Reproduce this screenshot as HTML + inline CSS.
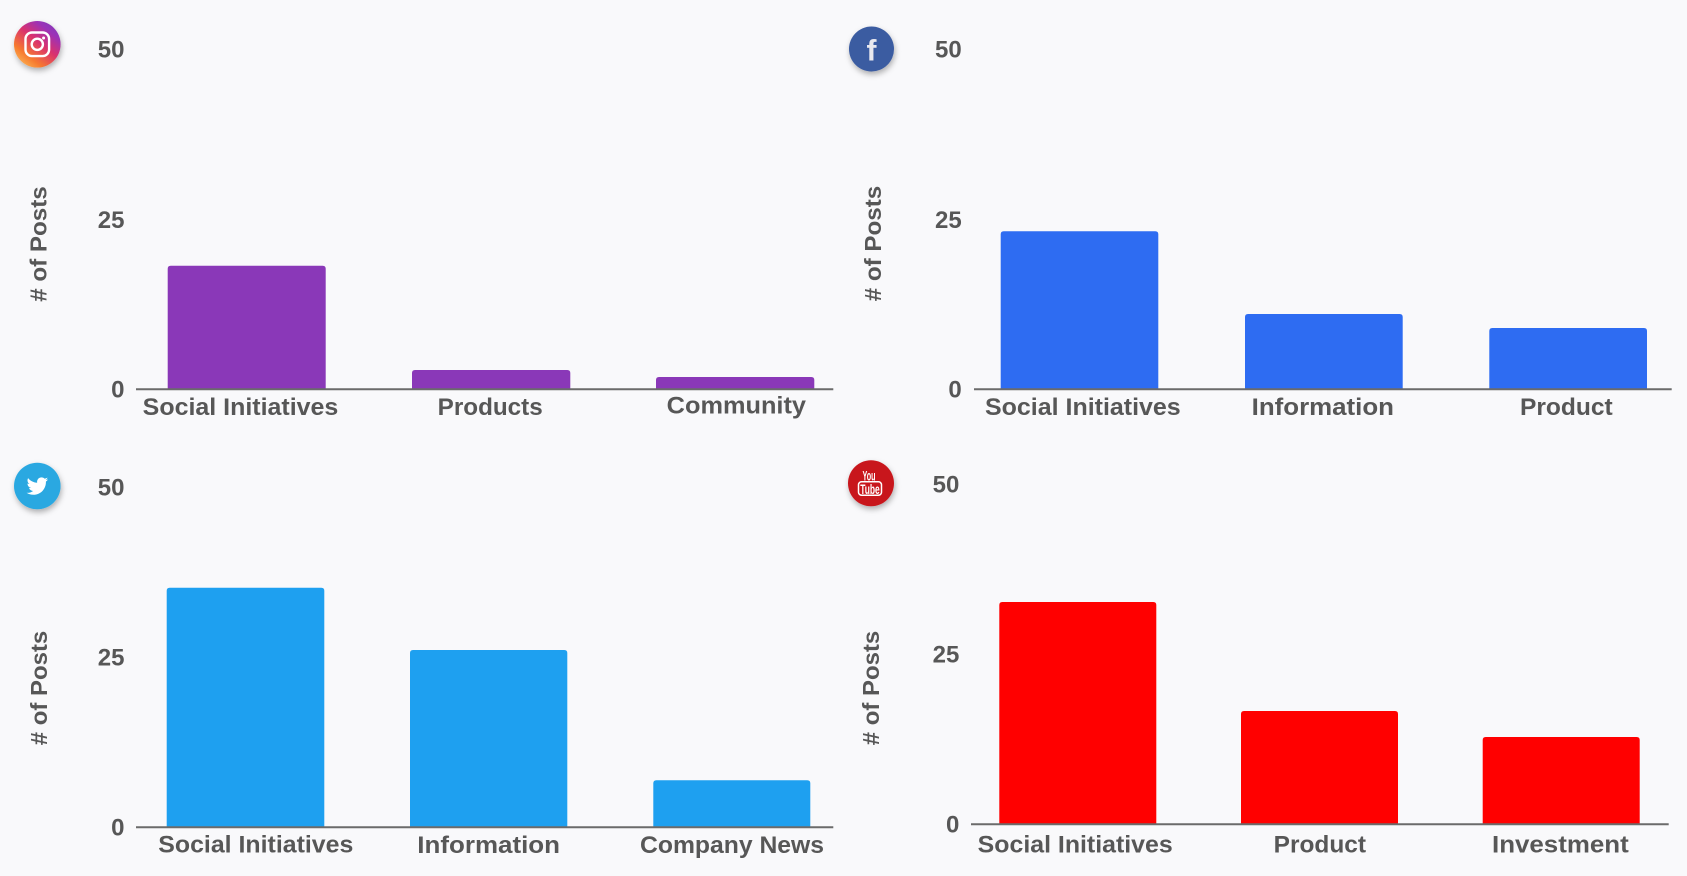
<!DOCTYPE html>
<html>
<head>
<meta charset="utf-8">
<style>
  html,body{margin:0;padding:0;background:#f9f9fb;}
  svg{display:block;}
  text{font-family:"Liberation Sans",Arial,sans-serif;font-weight:bold;fill:#575757;}
</style>
</head>
<body>
<svg width="1687" height="876" viewBox="0 0 1687 876" xmlns="http://www.w3.org/2000/svg">
  <defs>
    <filter id="sh" x="-50%" y="-50%" width="200%" height="200%">
      <feDropShadow dx="1" dy="3" stdDeviation="3" flood-color="#000" flood-opacity="0.3"/>
    </filter>
    <linearGradient id="ig" x1="0.1" y1="1" x2="0.9" y2="0">
      <stop offset="0" stop-color="#fdc25e"/>
      <stop offset="0.25" stop-color="#f77a2e"/>
      <stop offset="0.55" stop-color="#d9306f"/>
      <stop offset="0.8" stop-color="#9b33b8"/>
      <stop offset="1" stop-color="#7d3bb6"/>
    </linearGradient>
  </defs>
  <rect x="0" y="0" width="1687" height="876" fill="#f9f9fb"/>

  <!-- ===== Instagram ===== -->
  <g filter="url(#sh)"><circle cx="37.3" cy="44.3" r="23.3" fill="url(#ig)"/></g>
  <rect x="25.5" y="32.5" width="23.6" height="23.6" rx="6.5" fill="none" stroke="#fff" stroke-width="2.4"/>
  <circle cx="37.3" cy="44.3" r="5.6" fill="none" stroke="#fff" stroke-width="2.4"/>
  <circle cx="43.6" cy="38" r="1.5" fill="#fff"/>

  <text x="124.5" y="57.3" text-anchor="end" font-size="24">50</text>
  <text x="124.5" y="227.8" text-anchor="end" font-size="24">25</text>
  <text x="124.5" y="397.3" text-anchor="end" font-size="24">0</text>
  <text transform="translate(46.5,244) rotate(-90)" text-anchor="middle" font-size="23" textLength="115.5" lengthAdjust="spacingAndGlyphs">#  of Posts</text>

  <path d="M167.7 389.3 V268.7 Q167.7 265.7 170.7 265.7 H322.7 Q325.7 265.7 325.7 268.7 V389.3 Z" fill="#8a38b8"/>
  <path d="M412 389.3 V373 Q412 370 415 370 H567.3 Q570.3 370 570.3 373 V389.3 Z" fill="#8a38b8"/>
  <path d="M656 389.3 V380 Q656 377 659 377 H811.3 Q814.3 377 814.3 380 V389.3 Z" fill="#8a38b8"/>
  <line x1="136" y1="389.3" x2="833.3" y2="389.3" stroke="#6b6b6b" stroke-width="2"/>

  <text x="142.7" y="415" font-size="24" textLength="195.6" lengthAdjust="spacingAndGlyphs">Social Initiatives</text>
  <text x="437.7" y="415" font-size="24" textLength="105" lengthAdjust="spacingAndGlyphs">Products</text>
  <text x="666.7" y="413.3" font-size="24" textLength="139.3" lengthAdjust="spacingAndGlyphs">Community</text>

  <!-- ===== Facebook ===== -->
  <g filter="url(#sh)"><circle cx="871.5" cy="49" r="22.5" fill="#3b5ba1"/></g>
  <text x="871.5" y="60.5" text-anchor="middle" font-size="30" style="fill:#e9e9ef">f</text>

  <text x="961.7" y="57.3" text-anchor="end" font-size="24">50</text>
  <text x="961.7" y="227.8" text-anchor="end" font-size="24">25</text>
  <text x="961.7" y="397.3" text-anchor="end" font-size="24">0</text>
  <text transform="translate(881,243.5) rotate(-90)" text-anchor="middle" font-size="23" textLength="115.5" lengthAdjust="spacingAndGlyphs">#  of Posts</text>

  <path d="M1000.7 389.3 V234.3 Q1000.7 231.3 1003.7 231.3 H1155.3 Q1158.3 231.3 1158.3 234.3 V389.3 Z" fill="#2e6cf2"/>
  <path d="M1245 389.3 V317 Q1245 314 1248 314 H1399.7 Q1402.7 314 1402.7 317 V389.3 Z" fill="#2e6cf2"/>
  <path d="M1489.3 389.3 V331 Q1489.3 328 1492.3 328 H1644 Q1647 328 1647 331 V389.3 Z" fill="#2e6cf2"/>
  <line x1="974" y1="389.3" x2="1671.7" y2="389.3" stroke="#6b6b6b" stroke-width="2"/>

  <text x="985" y="415" font-size="24" textLength="195.7" lengthAdjust="spacingAndGlyphs">Social Initiatives</text>
  <text x="1251.7" y="415" font-size="24" textLength="142.3" lengthAdjust="spacingAndGlyphs">Information</text>
  <text x="1520" y="415" font-size="24" textLength="92.7" lengthAdjust="spacingAndGlyphs">Product</text>

  <!-- ===== Twitter ===== -->
  <g filter="url(#sh)"><circle cx="37.3" cy="486" r="23.3" fill="#2aa8e1"/></g>
  <g transform="translate(26.6,475.3) scale(0.042)">
    <path fill="#fff" d="M459.37 151.716c.325 4.548.325 9.097.325 13.645 0 138.72-105.583 298.558-298.558 298.558-59.452 0-114.68-17.219-161.137-47.106 8.447.974 16.568 1.299 25.34 1.299 49.055 0 94.213-16.568 130.274-44.832-46.132-.975-84.792-31.188-98.112-72.772 6.498.974 12.995 1.624 19.818 1.624 9.421 0 18.843-1.3 27.614-3.573-48.081-9.747-84.143-51.980-84.143-102.985v-1.299c13.969 7.797 30.214 12.67 47.431 13.319-28.264-18.843-46.781-51.005-46.781-87.391 0-19.492 5.197-37.36 14.294-52.954 51.655 63.675 129.3 105.258 216.365 109.807-1.624-7.797-2.599-15.918-2.599-24.04 0-57.828 46.782-104.934 104.934-104.934 30.213 0 57.502 12.67 76.67 33.137 23.715-4.548 46.456-13.32 66.599-25.34-7.798 24.366-24.366 44.833-46.132 57.827 21.117-2.273 41.584-8.122 60.426-16.243-14.292 20.791-32.161 39.308-52.628 54.253z"/>
  </g>

  <text x="124.5" y="495.6" text-anchor="end" font-size="24">50</text>
  <text x="124.5" y="665.6" text-anchor="end" font-size="24">25</text>
  <text x="124.5" y="835.6" text-anchor="end" font-size="24">0</text>
  <text transform="translate(47,688) rotate(-90)" text-anchor="middle" font-size="23" textLength="114.5" lengthAdjust="spacingAndGlyphs">#  of Posts</text>

  <path d="M166.7 827.3 V590.7 Q166.7 587.7 169.7 587.7 H321.3 Q324.3 587.7 324.3 590.7 V827.3 Z" fill="#1ea0f0"/>
  <path d="M410 827.3 V653 Q410 650 413 650 H564.3 Q567.3 650 567.3 653 V827.3 Z" fill="#1ea0f0"/>
  <path d="M653.3 827.3 V783.3 Q653.3 780.3 656.3 780.3 H807.3 Q810.3 780.3 810.3 783.3 V827.3 Z" fill="#1ea0f0"/>
  <line x1="136" y1="827.3" x2="833.3" y2="827.3" stroke="#6b6b6b" stroke-width="2"/>

  <text x="158.3" y="852.7" font-size="24" textLength="195" lengthAdjust="spacingAndGlyphs">Social Initiatives</text>
  <text x="417.3" y="853" font-size="24" textLength="142.7" lengthAdjust="spacingAndGlyphs">Information</text>
  <text x="640" y="853" font-size="24" textLength="184" lengthAdjust="spacingAndGlyphs">Company News</text>

  <!-- ===== YouTube ===== -->
  <g filter="url(#sh)"><circle cx="871" cy="483.3" r="23" fill="#c8171e"/></g>
  <text x="869" y="480.5" text-anchor="middle" font-size="14" textLength="13" lengthAdjust="spacingAndGlyphs" style="fill:#fff">You</text>
  <rect x="858.5" y="481.8" width="23" height="13.4" rx="3" fill="none" stroke="#fff" stroke-width="1.5"/>
  <text x="870" y="494" text-anchor="middle" font-size="13.5" textLength="19.5" lengthAdjust="spacingAndGlyphs" style="fill:#fff">Tube</text>

  <text x="959.3" y="492.3" text-anchor="end" font-size="24">50</text>
  <text x="959.3" y="662.3" text-anchor="end" font-size="24">25</text>
  <text x="959.3" y="832.3" text-anchor="end" font-size="24">0</text>
  <text transform="translate(879,688) rotate(-90)" text-anchor="middle" font-size="23" textLength="114.5" lengthAdjust="spacingAndGlyphs">#  of Posts</text>

  <path d="M999.3 824.3 V605 Q999.3 602 1002.3 602 H1153.3 Q1156.3 602 1156.3 605 V824.3 Z" fill="#ff0000"/>
  <path d="M1241 824.3 V714 Q1241 711 1244 711 H1395 Q1398 711 1398 714 V824.3 Z" fill="#ff0000"/>
  <path d="M1482.7 824.3 V740 Q1482.7 737 1485.7 737 H1636.7 Q1639.7 737 1639.7 740 V824.3 Z" fill="#ff0000"/>
  <line x1="971" y1="824.3" x2="1668.7" y2="824.3" stroke="#6b6b6b" stroke-width="2"/>

  <text x="977.7" y="852.7" font-size="24" textLength="195" lengthAdjust="spacingAndGlyphs">Social Initiatives</text>
  <text x="1273.7" y="852.7" font-size="24" textLength="92.3" lengthAdjust="spacingAndGlyphs">Product</text>
  <text x="1492" y="852.7" font-size="24" textLength="136.7" lengthAdjust="spacingAndGlyphs">Investment</text>
</svg>
</body>
</html>
